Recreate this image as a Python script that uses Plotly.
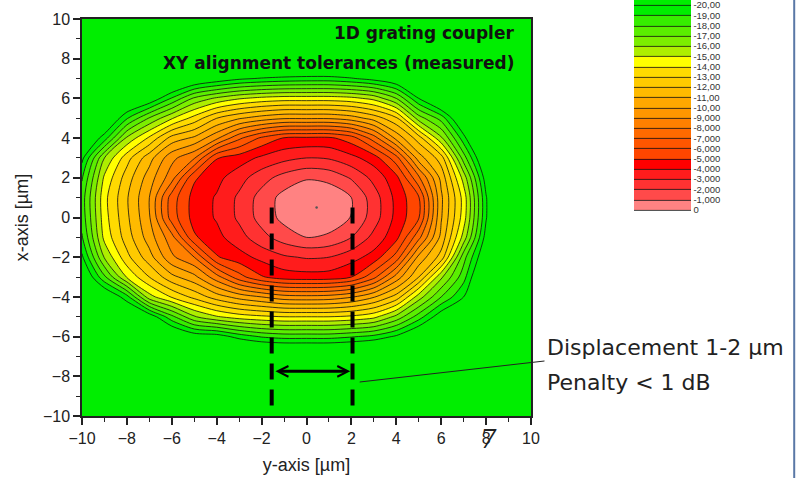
import plotly.graph_objects as go
import numpy as np

# ---------------- data ----------------
# horizontal axis ("y-axis [µm]") and vertical axis ("x-axis [µm]") grid
y_axis_um = list(range(-10, 11))
x_axis_um = list(range(-10, 11))

# measured coupling loss [dB]; one row per x-axis value (from -10 up to 10),
# columns follow y_axis_um (from -10 to 10)
loss_db = [
    [-25, -25, -25, -25, -25, -25, -25, -25, -25, -25, -25, -25, -25, -25, -25, -25, -25, -25, -25, -25, -25],
    [-25, -25, -25, -25, -25, -25, -25, -25, -25, -25, -25, -25, -25, -25, -25, -25, -25, -25, -25, -25, -25],
    [-25, -25, -25, -25, -25, -25, -25, -25, -25, -25, -25, -25, -25, -25, -25, -25, -25, -25, -25, -25, -25],
    [-25, -25, -25, -24.9, -24.6, -24.1, -23.7, -23.3, -23.1, -23.0, -23.0, -23.0, -23.1, -23.4, -23.8, -24.5, -25, -25, -25, -25, -25],
    [-25, -24.8, -24.0, -23.1, -21.9, -20.8, -20.6, -19.6, -18.9, -18.6, -18.6, -18.6, -18.9, -19.3, -20.2, -21.7, -23.2, -24.4, -25, -25, -25],
    [-24.5, -23.4, -22.0, -20.8, -18.3, -16.1, -15.1, -14.5, -14.2, -14.0, -14.0, -14.0, -14.2, -14.7, -16.3, -18.5, -20.8, -22.4, -24.3, -25, -25],
    [-23.3, -21.5, -19.4, -15.4, -13.9, -12.7, -11.5, -10.6, -10.0, -9.4, -9.3, -9.4, -9.9, -10.9, -12.4, -15.5, -18.0, -20.0, -22.7, -24.7, -25],
    [-21.6, -18.2, -14.9, -13.0, -11.3, -10.3, -8.4, -6.4, -5.1, -4.5, -4.4, -4.45, -5.0, -6.7, -9.4, -12.0, -15.8, -18.6, -22.5, -24.2, -25],
    [-20.2, -15.9, -13.3, -11.4, -9.2, -8.0, -5.1, -4.4, -3.7, -3.15, -2.9, -3.0, -3.6, -4.4, -6.4, -10.3, -12.4, -17.6, -21.3, -24.7, -25],
    [-19.1, -14.7, -12.5, -10.5, -8.35, -5.15, -4.3, -3.4, -2.35, -1.5, -1.0, -1.2, -2.0, -3.3, -4.7, -7.7, -11.3, -15.4, -20.5, -24.0, -25],
    [-18.6, -14.4, -12.2, -10.1, -6.5, -4.6, -3.9, -2.8, -1.6, -0.7, -0.2, -0.3, -1.05, -2.5, -4.3, -5.9, -10.9, -14.5, -19.9, -24.0, -25],
    [-18.5, -14.3, -12.1, -10.0, -6.5, -4.6, -3.9, -2.8, -1.6, -0.65, -0.15, -0.25, -1.0, -2.5, -4.3, -5.9, -10.8, -14.4, -19.9, -24.0, -25],
    [-19.1, -14.8, -12.5, -10.5, -8.4, -5.15, -4.3, -3.4, -2.4, -1.6, -1.1, -1.3, -2.1, -3.3, -4.7, -7.8, -11.3, -15.4, -20.6, -24.0, -25],
    [-20.3, -16.0, -13.4, -11.4, -9.3, -8.1, -5.05, -4.5, -3.8, -3.3, -3.0, -3.1, -3.7, -4.5, -6.6, -10.5, -12.5, -17.5, -21.8, -24.8, -25],
    [-21.7, -19.5, -15.8, -13.8, -11.6, -10.8, -9.2, -7.2, -5.8, -4.9, -4.8, -4.8, -5.5, -7.5, -10.3, -12.5, -15.8, -19.6, -23.5, -25, -25],
    [-23.4, -21.8, -19.1, -16.9, -15.1, -13.6, -12.0, -11.1, -10.5, -10.1, -10.1, -10.1, -10.5, -11.4, -12.8, -16.5, -18.4, -21.8, -23.8, -25, -25],
    [-24.6, -23.6, -22.0, -21.0, -18.9, -16.8, -15.8, -15.1, -14.7, -14.5, -14.5, -14.5, -14.7, -15.3, -17.0, -20.0, -22.3, -24.0, -24.6, -25, -25],
    [-25, -24.9, -24.4, -23.5, -22.6, -21.5, -20.8, -20.2, -19.9, -19.7, -19.6, -19.6, -19.9, -20.4, -21.2, -22.4, -23.6, -24.8, -25, -25, -25],
    [-25, -25, -25, -25, -24.9, -24.6, -24.2, -23.9, -23.7, -23.6, -23.5, -23.5, -23.6, -23.9, -24.4, -25, -25, -25, -25, -25, -25],
    [-25, -25, -25, -25, -25, -25, -25, -25, -25, -25, -25, -25, -25, -25, -25, -25, -25, -25, -25, -25, -25],
    [-25, -25, -25, -25, -25, -25, -25, -25, -25, -25, -25, -25, -25, -25, -25, -25, -25, -25, -25, -25, -25],
]

# colour-bar levels (top to bottom) and their labels
level_values = [-20, -19, -18, -17, -16, -15, -14, -13, -12, -11, -10,
                -9, -8, -7, -6, -5, -4, -3, -2, -1, 0]
level_labels = ["-20,00", "-19,00", "-18,00", "-17,00", "-16,00", "-15,00",
                "-14,00", "-13,00", "-12,00", "-11,00", "-10,00", "-9,000",
                "-8,000", "-7,000", "-6,000", "-5,000", "-4,000", "-3,000",
                "-2,000", "-1,000", "0"]

# band colours from the [-1,0] band up to the [-20,-19] band
band_colors = ["#FF8282", "#FF4A4A", "#FF3232", "#FF1C1C", "#FF0000",
               "#FF4600", "#FF5600", "#FF6A00", "#FF8000", "#FF9600",
               "#FFA800", "#FFBA00", "#FFCA00", "#FFDA00", "#FFFF00",
               "#AEEE00", "#7CEE00", "#5AEE00", "#36EE00", "#00EE00"]

# displacement markers (y-axis positions) and the arrow
dash_positions = [-1.55, 2.05]
dash_span = [0.5, -9.55]
arrow_span = [-1.45, 1.95]
arrow_level = -7.75
peak_point = [0.45, 0.5]

# ---------------- figure ----------------
penalty = -np.array(loss_db, dtype=float)          # plotted as positive penalty
n = len(band_colors)
colorscale = [[0.0, "#FFFFFF"]]
for k, c in enumerate(band_colors):
    colorscale.append([(k + 1) / (n + 1), c])
colorscale.append([1.0, band_colors[-1]])

W, H = 796, 478
L, R, T, B = 82, 264.5, 19, 62
pw, ph = W - L - R, H - T - B

def px(xp):
    return (xp - L) / pw

def py(yp):
    return (H - B - yp) / ph

fig = go.Figure()
fig.add_trace(go.Contour(
    x=y_axis_um, y=x_axis_um, z=penalty,
    autocontour=False,
    contours=dict(start=0, end=20, size=1, coloring="fill", showlines=True),
    line=dict(color="#111111", width=0.8, smoothing=0.8),
    colorscale=colorscale,
    colorbar=dict(
        x=px(635), xanchor="left", y=py(0), yanchor="top",
        len=215, lenmode="pixels", thickness=57, thicknessmode="pixels",
        xpad=0, ypad=0, outlinewidth=0, ticks="", ticklabeloverflow="allow",
        tickmode="array", tickvals=[-v for v in level_values], ticktext=level_labels,
        tickfont=dict(family="Liberation Sans", size=9.5, color="#333333"),
    ),
    hoverinfo="skip",
))

for xd in dash_positions:
    fig.add_trace(go.Scatter(
        x=[xd, xd], y=dash_span, mode="lines",
        line=dict(color="black", width=4, dash="16px,10px"),
        showlegend=False, hoverinfo="skip"))

fig.add_trace(go.Scatter(
    x=[peak_point[0]], y=[peak_point[1]], mode="markers",
    marker=dict(size=2.5, color="#555555"), showlegend=False, hoverinfo="skip"))

fig.add_annotation(
    x=arrow_span[1], y=arrow_level, ax=arrow_span[0], ay=arrow_level,
    xref="x", yref="y", axref="x", ayref="y", text="", showarrow=True,
    arrowside="end+start", arrowhead=5, arrowsize=0.7, arrowwidth=3,
    arrowcolor="black", standoff=0, startstandoff=0)

title_font = dict(family="DejaVu Sans", size=17, color="#111111")
fig.add_annotation(x=px(516), y=py(33), xref="paper", yref="paper",
                   text="<b>1D grating coupler</b>", showarrow=False,
                   xanchor="right", yanchor="middle", font=title_font)
fig.add_annotation(x=px(516), y=py(63), xref="paper", yref="paper",
                   text="<b>XY alignment tolerances (measured)</b>", showarrow=False,
                   xanchor="right", yanchor="middle", font=title_font)

note_font = dict(family="DejaVu Sans", size=22, color="#222222")
fig.add_annotation(x=px(546), y=py(347), xref="paper", yref="paper",
                   text="Displacement 1-2 µm", showarrow=False,
                   xanchor="left", yanchor="middle", font=note_font)
fig.add_annotation(x=px(546), y=py(382), xref="paper", yref="paper",
                   text="Penalty &lt; 1 dB", showarrow=False,
                   xanchor="left", yanchor="middle", font=note_font)
fig.add_shape(type="line", xref="paper", yref="paper",
              x0=px(545), y0=py(361), x1=px(360), y1=py(382),
              line=dict(color="#222222", width=1))

fig.add_annotation(x=px(499), y=py(456), xref="paper", yref="paper",
                   text="<i>7</i>", showarrow=False,
                   font=dict(family="DejaVu Serif", size=26, color="#222222"))

fig.add_shape(type="line", xref="paper", yref="paper",
              x0=px(795), x1=px(795), y0=py(H), y1=py(0),
              line=dict(color="#5A78A6", width=2))

axis_common = dict(
    range=[-10, 10], dtick=2, tick0=-10, ticks="outside", ticklen=7, tickwidth=1.5,
    tickcolor="#222222", showline=True, linecolor="#222222", linewidth=1.5,
    mirror=True, showgrid=False, zeroline=False,
    tickfont=dict(family="Liberation Sans", size=16, color="#222222"),
    minor=dict(dtick=1, ticks="outside", ticklen=4, tickwidth=1.2, tickcolor="#222222"),
)
fig.update_xaxes(**axis_common,
                 title=dict(text="y-axis [µm]", standoff=12,
                            font=dict(family="Liberation Sans", size=18, color="#222222")))
fig.update_yaxes(**axis_common,
                 title=dict(text="x-axis [µm]", standoff=10,
                            font=dict(family="Liberation Sans", size=18, color="#222222")))

fig.update_layout(
    width=W, height=H, margin=dict(l=L, r=R, t=T, b=B, autoexpand=False),
    paper_bgcolor="white", plot_bgcolor="white", showlegend=False,
)

fig.write_html("out.html", config={"displayModeBar": False},
               post_script="document.body.style.margin='0px';")
